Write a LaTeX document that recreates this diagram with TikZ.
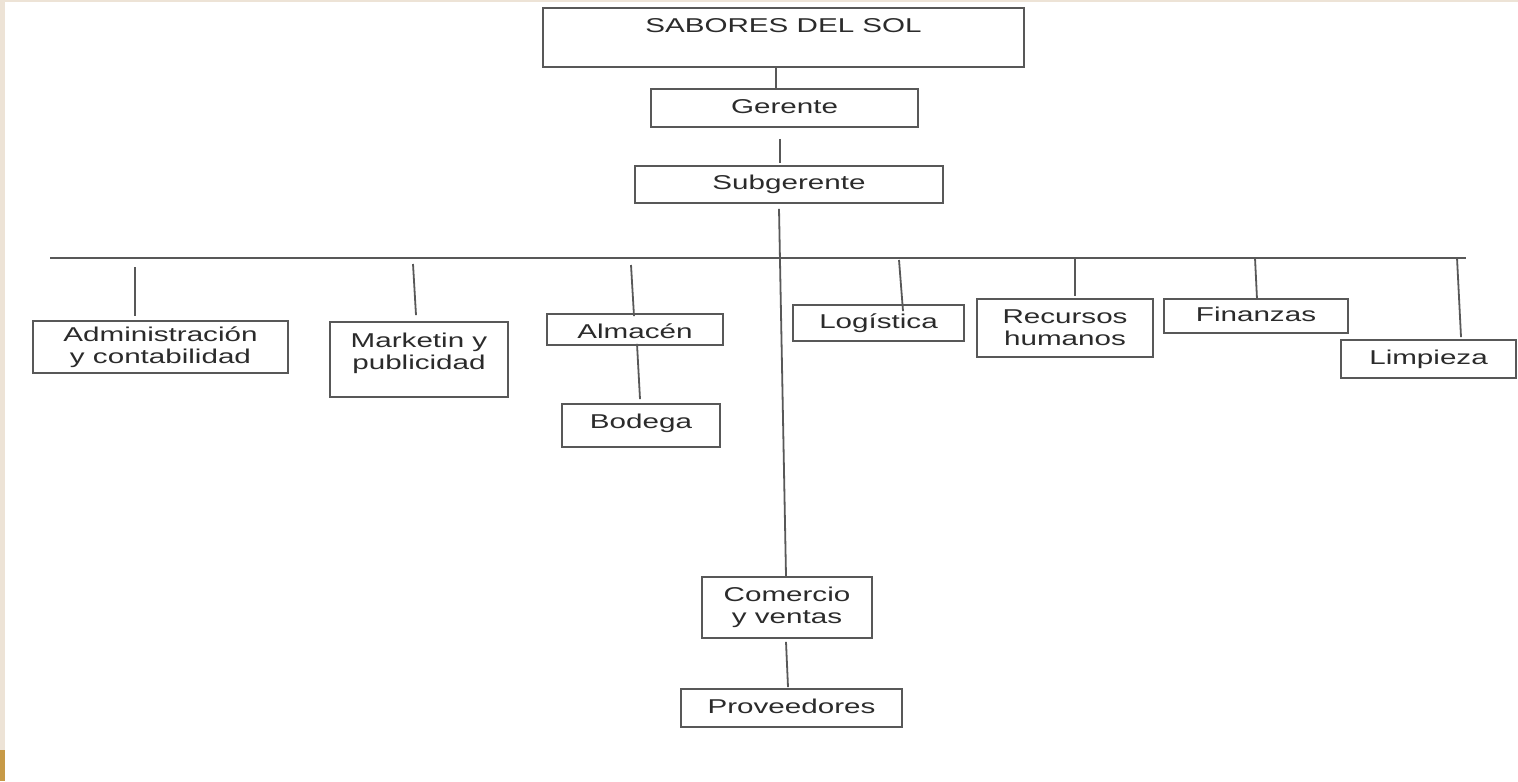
\documentclass[tikz,border=0pt]{standalone}
\usepackage{fontspec}
\setmainfont[FakeStretch=1.48]{Liberation Sans}

\definecolor{linegray}{HTML}{585858}
\definecolor{textgray}{HTML}{2B2B2B}
\definecolor{paper}{HTML}{EDE3D6}
\definecolor{gold}{HTML}{C79A47}

\begin{document}
\begin{tikzpicture}[x=0.5pt, y=-0.5pt,
  box/.style={draw=linegray, line width=0.9pt, rectangle, inner sep=0pt, text=textgray, font=\fontsize{10}{11}\selectfont},
  onebox/.style={box, text height=7.5pt, text depth=2.2pt},
  twobox/.style={box, align=center},
  link/.style={draw=linegray, line width=0.9pt}]

% Page
\fill[white] (0,0) rectangle (1518,781);
\fill[paper] (0,0) rectangle (1518,2);
\fill[paper] (0,0) rectangle (5,781);
\fill[gold] (0,750) rectangle (5,781);
\useasboundingbox (0,0) rectangle (1518,781);

% Nodes
\node (sol) [onebox, minimum width=240.5pt, minimum height=29.5pt, text depth=12.8pt] at (783.5,37.5) {SABORES DEL SOL};
\node (gerente) [onebox, minimum width=133.5pt, minimum height=19pt] at (784.5,108) {Gerente};
\node (subgerente) [onebox, minimum width=154pt, minimum height=18.5pt] at (789,184.5) {Subgerente};
\node (admin) [twobox, minimum width=127.5pt, minimum height=26pt] at (160.5,347) {Administración\\y contabilidad};
\node (marketin) [twobox, minimum width=89pt, minimum height=37.5pt, text height=18.5pt, text depth=8.8pt] at (419,359.5) {Marketin y\\publicidad};
\node (almacen) [onebox, minimum width=88pt, minimum height=15.5pt, text height=10.9pt] at (635,329.5) {Almacén};
\node (bodega) [onebox, minimum width=79pt, minimum height=21.5pt, text depth=4.8pt] at (641,425.5) {Bodega};
\node (logistica) [onebox, minimum width=85.5pt, minimum height=18pt] at (878.5,323) {Logística};
\node (recursos) [twobox, minimum width=88pt, minimum height=29pt] at (1065,328) {Recursos\\humanos};
\node (finanzas) [onebox, minimum width=92pt, minimum height=17pt] at (1256,316) {Finanzas};
\node (limpieza) [onebox, minimum width=87.5pt, minimum height=19pt] at (1428.5,359) {Limpieza};
\node (comercio) [twobox, minimum width=85pt, minimum height=30.5pt] at (787,607.5) {Comercio\\y ventas};
\node (proveedores) [onebox, minimum width=110.5pt, minimum height=19pt] at (791.5,708) {Proveedores};

% Bar and drop points
\coordinate (barL) at (50,258);
\coordinate (barR) at (1466,258);
\coordinate (adminTop) at (135,267);
\coordinate (marketinTop) at (413,264);
\coordinate (almacenTop) at (631,265);
\coordinate (logisticaTop) at (899,260);
\coordinate (recursosTop) at (1075,258);
\coordinate (finanzasTop) at (1255,258);
\coordinate (limpiezaTop) at (1457,258);

% Lines
\draw[link] ([shift={(-7.5,0)}]sol.south) -- ([shift={(-8.5,0)}]gerente.north);
\draw[link] ([shift={(-4.5,11)}]gerente.south) -- ([shift={(-9,-2)}]subgerente.north);
\draw[link] ([shift={(-10,5)}]subgerente.south) -- ([shift={(-1,0)}]comercio.north);
\draw[link] (barL) -- (barR);
\draw[link] (adminTop) -- ([shift={(-25.5,-4)}]admin.north);
\draw[link] (marketinTop) -- ([shift={(-3,-6)}]marketin.north);
\draw[link] (almacenTop) -- ([shift={(-1,3)}]almacen.north);
\draw[link] ([shift={(2,-2)}]almacen.south) -- ([shift={(-1,-4)}]bodega.north);
\draw[link] (logisticaTop) -- ([shift={(24.5,7)}]logistica.north);
\draw[link] (recursosTop) -- ([shift={(10,-2)}]recursos.north);
\draw[link] (finanzasTop) -- ([shift={(1,1)}]finanzas.north);
\draw[link] (limpiezaTop) -- ([shift={(32.5,-2)}]limpieza.north);
\draw[link] ([shift={(-1,3)}]comercio.south) -- ([shift={(-3.5,-1)}]proveedores.north);

\end{tikzpicture}
\end{document}
